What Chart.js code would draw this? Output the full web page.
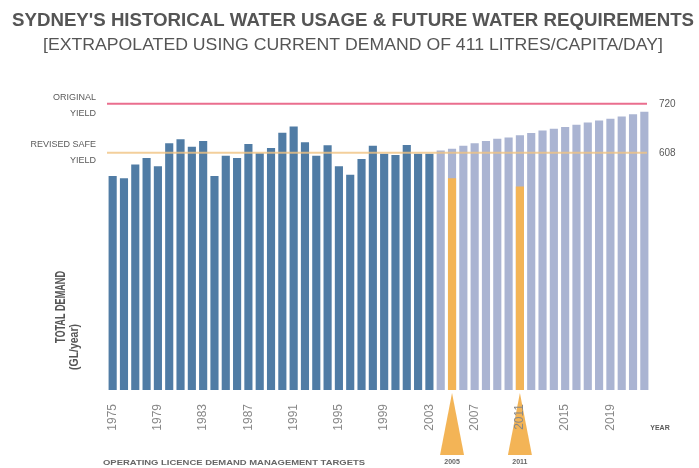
<!DOCTYPE html>
<html>
<head>
<meta charset="utf-8">
<script src="https://cdn.jsdelivr.net/npm/chart.js@4.4.1/dist/chart.umd.min.js"></script>
<style>
  html, body { margin: 0; padding: 0; background: #fff; }
  #wrap { width: 699px; height: 468px; }
</style>
</head>
<body>
<div id="wrap"><canvas id="waterChart" width="699" height="468"></canvas></div>
<script>
// データ
const years = ['1975','1976','1977','1978','1979','1980','1981','1982','1983','1984',
    '1985','1986','1987','1988','1989','1990','1991','1992','1993','1994',
    '1995','1996','1997','1998','1999','2000','2001','2002','2003','2004',
    '2005','2006','2007','2008','2009','2010','2011','2012','2013','2014',
    '2015','2016','2017','2018','2019','2020','2021','2022'];

// 実績 1975-2003
const historicalDemand = [555, 550, 581, 596, 577, 630, 639, 622, 635, 555,
    601, 596, 628, 607, 619, 654, 668, 632, 601, 625,
    577, 558, 594, 624, 606, 603, 626, 606, 606];

// 予測 2004-2022
const projectedDemand = [613, 617, 624, 630, 635, 640, 643, 648, 653, 659,
    663, 667, 672, 677, 682, 686, 691, 696, 702];

// 需要管理目標
const targetYears = ['2005', '2011'];
const targetDemand = [550, 531];

const tickYears = ['1975','1979','1983','1987','1991','1995','1999','2003','2007','2011','2015','2019'];

const ORIGINAL_YIELD = 720;
const REVISED_SAFE_YIELD = 608;

const DARK_BLUE = 'rgb(80, 124, 165)';
const LIGHT_BLUE = 'rgb(170, 180, 210)';
const ORANGE = 'rgb(243, 180, 86)';
const TEXT_GREY = '#5a5a5a';

// テキスト幅を合わせて描画
function fitText(ctx, text, x, y, width, font, color, align) {
    ctx.save();
    ctx.font = font;
    ctx.fillStyle = color;
    ctx.textBaseline = 'middle';
    const w = ctx.measureText(text).width;
    const sx = width ? width / w : 1;
    ctx.translate(x, y);
    ctx.scale(sx, 1);
    ctx.textAlign = align || 'center';
    ctx.fillText(text, 0, 0);
    ctx.restore();
}

// 三角形（目標マーカー）は目盛りより下に描く
const targetMarkers = {
    id: 'targetMarkers',
    beforeDraw(chart) {
        const ctx = chart.ctx;
        const x = chart.scales.x;
        ctx.save();
        ctx.fillStyle = ORANGE;
        targetYears.forEach(year => {
            const px = x.getPixelForValue(years.indexOf(year));
            ctx.beginPath();
            ctx.moveTo(px, x.top + 3);
            ctx.lineTo(px + 12, x.top + 65);
            ctx.lineTo(px - 12, x.top + 65);
            ctx.closePath();
            ctx.fill();
        });
        ctx.restore();
    }
};

// 供給量の水平線
const yieldLines = {
    id: 'yieldLines',
    afterDatasetsDraw(chart) {
        const ctx = chart.ctx;
        const area = chart.chartArea;
        const y = chart.scales.y;
        ctx.save();
        ctx.lineWidth = 2;
        ctx.strokeStyle = 'rgba(240, 195, 130, 0.8)';
        let py = y.getPixelForValue(REVISED_SAFE_YIELD);
        ctx.beginPath();
        ctx.moveTo(area.left, py);
        ctx.lineTo(area.right - 3, py);
        ctx.stroke();
        ctx.strokeStyle = 'rgb(234, 110, 142)';
        py = y.getPixelForValue(ORIGINAL_YIELD);
        ctx.beginPath();
        ctx.moveTo(area.left, py);
        ctx.lineTo(area.right - 3, py);
        ctx.stroke();
        ctx.restore();
    }
};

// タイトル・ラベル類
const annotations = {
    id: 'annotations',
    afterDraw(chart) {
        const ctx = chart.ctx;
        const area = chart.chartArea;
        const x = chart.scales.x;
        const y = chart.scales.y;
        const font = '"Liberation Sans", Arial, sans-serif';
        const narrow = '"Liberation Sans Narrow", "Liberation Sans", sans-serif';

        fitText(ctx, "SYDNEY'S HISTORICAL WATER USAGE & FUTURE WATER REQUIREMENTS",
            353, 21, 682, 'bold 19px ' + narrow, '#555');
        fitText(ctx, '[EXTRAPOLATED USING CURRENT DEMAND OF 411 LITRES/CAPITA/DAY]',
            353, 45, 620, '17px ' + narrow, '#555');

        const yo = y.getPixelForValue(ORIGINAL_YIELD);
        const yr = y.getPixelForValue(REVISED_SAFE_YIELD);
        const lx = area.left - 11;
        fitText(ctx, 'ORIGINAL', lx, yo - 6, 0, '9px ' + font, TEXT_GREY, 'right');
        fitText(ctx, 'YIELD', lx, yo + 10, 0, '9px ' + font, TEXT_GREY, 'right');
        fitText(ctx, 'REVISED SAFE', lx, yr - 8, 0, '9px ' + font, TEXT_GREY, 'right');
        fitText(ctx, 'YIELD', lx, yr + 8, 0, '9px ' + font, TEXT_GREY, 'right');

        fitText(ctx, String(ORIGINAL_YIELD), area.right + 9, yo, 0, '10px ' + font, TEXT_GREY, 'left');
        fitText(ctx, String(REVISED_SAFE_YIELD), area.right + 9, yr, 0, '10px ' + font, TEXT_GREY, 'left');

        fitText(ctx, 'YEAR', 660, 428, 0, 'bold 7px ' + font, TEXT_GREY, 'center');

        // 縦軸タイトル
        ctx.save();
        ctx.translate(61, 343);
        ctx.rotate(-Math.PI / 2);
        fitText(ctx, 'TOTAL DEMAND', 0, 0, 72, 'bold 14px ' + narrow, '#555', 'left');
        ctx.restore();
        ctx.save();
        ctx.translate(74, 370);
        ctx.rotate(-Math.PI / 2);
        fitText(ctx, '(GL/year)', 0, 0, 46, 'bold 13px ' + narrow, '#555', 'left');
        ctx.restore();

        fitText(ctx, 'OPERATING LICENCE DEMAND MANAGEMENT TARGETS', 103, 463, 262,
            'bold 7px ' + font, '#666', 'left');
        targetYears.forEach(year => {
            const px = x.getPixelForValue(years.indexOf(year));
            fitText(ctx, year, px, 462, 0, 'bold 7px ' + font, '#666', 'center');
        });
    }
};

function padSeries(values, startYear) {
    const start = years.indexOf(startYear);
    return years.map((_, i) => (i >= start && i < start + values.length) ? values[i - start] : null);
}

const ctx = document.getElementById('waterChart').getContext('2d');
const waterChart = new Chart(ctx, {
    type: 'bar',
    data: {
        labels: years,
        datasets: [
            {
                label: 'Targets',
                data: targetYears.map((year, i) => ({ x: year, y: targetDemand[i] })),
                backgroundColor: ORANGE,
                order: 0
            },
            {
                label: 'Historical',
                data: padSeries(historicalDemand, '1975'),
                backgroundColor: DARK_BLUE,
                order: 1
            },
            {
                label: 'Projected',
                data: padSeries(projectedDemand, '2004'),
                backgroundColor: LIGHT_BLUE,
                order: 2
            }
        ]
    },
    options: {
        responsive: false,
        animation: false,
        devicePixelRatio: 1,
        layout: {
            padding: { left: 107, right: 49, top: 95, bottom: 33 }
        },
        datasets: {
            bar: {
                grouped: false,
                categoryPercentage: 1,
                barPercentage: 0.72
            }
        },
        plugins: {
            legend: { display: false },
            tooltip: { enabled: false }
        },
        scales: {
            x: {
                grid: { display: false },
                border: { display: false },
                afterFit(scale) { scale.height = 45; },
                ticks: {
                    autoSkip: false,
                    minRotation: 90,
                    maxRotation: 90,
                    padding: 6,
                    color: '#888',
                    font: { family: '"Liberation Sans", sans-serif', size: 12 },
                    callback: function(value) {
                        const label = this.getLabelForValue(value);
                        return tickYears.includes(label) ? label : '';
                    }
                }
            },
            y: {
                display: false,
                min: 66,
                max: 740
            }
        }
    },
    plugins: [targetMarkers, yieldLines, annotations]
});
</script>
</body>
</html>
